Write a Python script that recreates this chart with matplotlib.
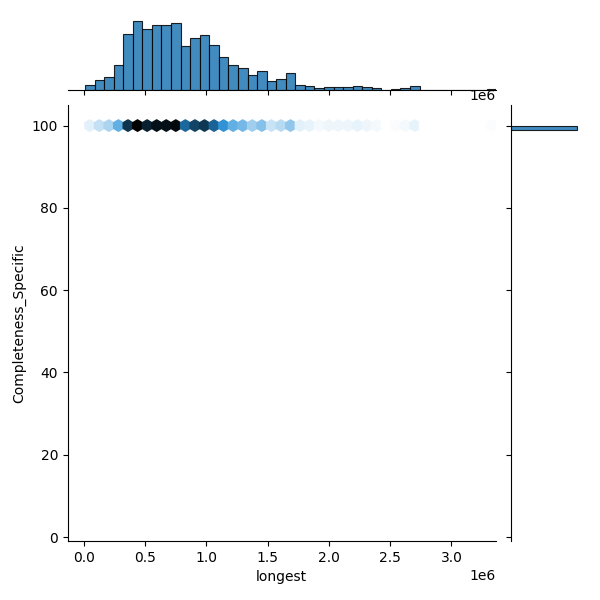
import matplotlib
matplotlib.use('Agg')
import numpy as np
import matplotlib.pyplot as plt
from matplotlib.colors import LinearSegmentedColormap
import colorsys

bin_start = 0.01
bin_width = 0.078
counts = [5, 10, 14, 26, 59, 72, 64, 68, 68, 70, 46, 55, 58, 47, 35, 26, 23, 16,
          20, 9, 12, 18, 5, 4, 2, 3, 3, 3, 4, 3, 2, 0, 1, 2, 4, 0, 0, 0, 0, 0,
          0, 0, 1]
# a few faint points below 100 on the y axis
faint_x = [0.1, 0.15, 0.2, 0.12]
faint_y = [90, 80, 45, 30]

n = len(counts)
edges = (bin_start + bin_width * np.arange(n + 1)) * 1e6
centers = (edges[:-1] + edges[1:]) / 2
counts = np.array(counts, dtype=float)

xs = np.concatenate([centers, np.array(faint_x) * 1e6])
ys = np.concatenate([np.full(n, 100.0), faint_y])
ws = np.concatenate([counts, np.full(len(faint_x), 0.2)])

c0 = matplotlib.colors.to_rgb('C0')
h, l, s = colorsys.rgb_to_hls(*c0)
cols = [colorsys.hls_to_rgb(h, li, s) for li in np.linspace(1, 0, 12)]
cmap = LinearSegmentedColormap.from_list('blend', cols)

fig = plt.figure(figsize=(6, 6))
ax = fig.add_axes([0.113, 0.098, 0.713, 0.727])
axx = fig.add_axes([0.113, 0.85, 0.713, 0.12], sharex=ax)
axy = fig.add_axes([0.852, 0.098, 0.115, 0.727], sharey=ax)

ax.hexbin(xs, ys, C=ws, reduce_C_function=np.sum, gridsize=n - 1, cmap=cmap,
          extent=(centers[0], centers[-1], 0, 100), mincnt=0.1, vmin=0)
ax.set_xlim(-0.13e6, 3.36e6)
ax.set_ylim(-1, 105)
ax.set_xlabel('longest')
ax.set_ylabel('Completeness_Specific')
ax.spines[['top', 'right']].set_visible(False)

axx.bar(edges[:-1], counts, width=bin_width * 1e6, align='edge', color='C0',
        alpha=0.85, edgecolor='black', linewidth=0.8)
axy.barh(99.5, counts.sum(), height=1.0, color='C0', alpha=0.85, edgecolor='black', linewidth=0.8)

for a in (axx, axy):
    a.tick_params(labelbottom=False, labelleft=False)
    for sp in ('top', 'right'):
        a.spines[sp].set_visible(False)
axx.spines['left'].set_visible(False)
axy.spines['bottom'].set_visible(False)
axx.set_yticks([])
axy.set_xticks([])
fig.text(0.826, 0.828, '1e6', ha='right', va='bottom', fontsize=10)

fig.savefig('out.png', dpi=100)
